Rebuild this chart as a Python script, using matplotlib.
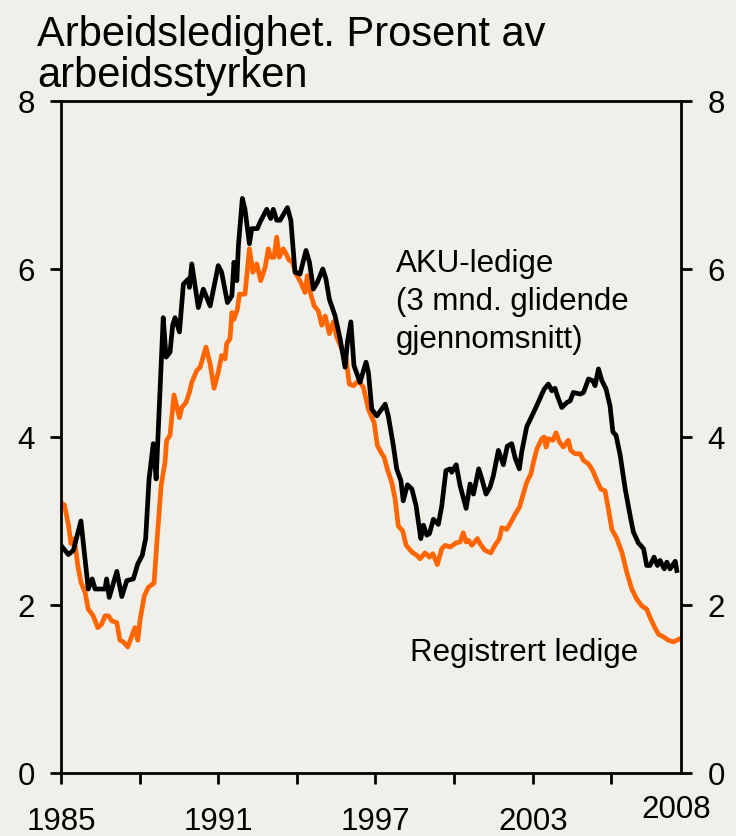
import matplotlib
matplotlib.use("Agg")
import matplotlib.pyplot as plt
import matplotlib.transforms as mtransforms

plt.rcParams['font.family'] = ['Liberation Sans', 'DejaVu Sans']

# AKU-ledige (3 mnd. glidende gjennomsnitt), prosent
aku_year = [1985.05, 1985.28, 1985.47, 1985.76, 1986.04, 1986.19, 1986.30, 1986.68, 1986.74, 1986.84,
            1987.13, 1987.32, 1987.51, 1987.76, 1987.93, 1988.10, 1988.23, 1988.36, 1988.52, 1988.63,
            1988.90, 1989.01, 1989.16, 1989.26, 1989.35, 1989.52, 1989.67, 1989.86, 1989.90, 1989.99,
            1990.24, 1990.43, 1990.69, 1991.00, 1991.13, 1991.35, 1991.52, 1991.60, 1991.71, 1991.77,
            1991.92, 1992.02, 1992.19, 1992.28, 1992.49, 1992.60, 1992.85, 1993.00, 1993.10, 1993.23,
            1993.36, 1993.64, 1993.77, 1993.93, 1994.12, 1994.35, 1994.48, 1994.63, 1994.78, 1994.99,
            1995.11, 1995.24, 1995.46, 1995.65, 1995.84, 1995.93, 1996.06, 1996.18, 1996.41, 1996.64,
            1996.73, 1996.86, 1997.05, 1997.37, 1997.49, 1997.68, 1997.81, 1997.97, 1998.06, 1998.22,
            1998.39, 1998.55, 1998.73, 1998.83, 1998.96, 1999.06, 1999.21, 1999.40, 1999.53, 1999.69,
            1999.85, 1999.91, 2000.08, 2000.23, 2000.46, 2000.61, 2000.74, 2000.94, 2001.06, 2001.22,
            2001.37, 2001.50, 2001.69, 2001.88, 2002.03, 2002.20, 2002.33, 2002.49, 2002.58, 2002.77,
            2002.97, 2003.18, 2003.35, 2003.44, 2003.60, 2003.73, 2003.85, 2003.94, 2004.11, 2004.30,
            2004.43, 2004.55, 2004.81, 2004.94, 2005.13, 2005.29, 2005.38, 2005.51, 2005.64, 2005.80,
            2005.95, 2006.06, 2006.18, 2006.34, 2006.53, 2006.72, 2006.84, 2007.03, 2007.23, 2007.35,
            2007.48, 2007.63, 2007.76, 2007.86, 2008.02, 2008.12, 2008.24, 2008.44, 2008.50]
aku = [2.69, 2.60, 2.65, 3.00, 2.19, 2.31, 2.19, 2.19, 2.31, 2.09,
       2.40, 2.10, 2.29, 2.31, 2.49, 2.59, 2.79, 3.50, 3.92, 3.50,
       5.42, 4.95, 5.01, 5.33, 5.42, 5.25, 5.82, 5.88, 5.78, 6.06,
       5.54, 5.76, 5.56, 6.04, 5.96, 5.60, 5.68, 6.08, 5.86, 6.28,
       6.84, 6.71, 6.30, 6.48, 6.48, 6.56, 6.71, 6.60, 6.71, 6.58,
       6.58, 6.73, 6.58, 5.96, 5.94, 6.22, 6.08, 5.76, 5.84, 6.00,
       5.88, 5.64, 5.44, 5.17, 4.83, 5.13, 5.37, 4.85, 4.65, 4.89,
       4.77, 4.33, 4.25, 4.39, 4.25, 3.90, 3.62, 3.48, 3.24, 3.43,
       3.38, 3.18, 2.79, 2.95, 2.83, 2.85, 3.02, 2.96, 3.18, 3.60,
       3.62, 3.58, 3.67, 3.42, 3.15, 3.44, 3.32, 3.62, 3.50, 3.32,
       3.40, 3.54, 3.84, 3.67, 3.89, 3.92, 3.75, 3.62, 3.82, 4.12,
       4.25, 4.39, 4.51, 4.57, 4.63, 4.55, 4.58, 4.49, 4.35, 4.41,
       4.43, 4.53, 4.51, 4.53, 4.69, 4.67, 4.61, 4.81, 4.67, 4.57,
       4.37, 4.06, 4.02, 3.78, 3.38, 3.06, 2.87, 2.74, 2.67, 2.47,
       2.47, 2.57, 2.47, 2.53, 2.43, 2.51, 2.43, 2.52, 2.41]

# Registrert ledige, prosent
reg_year = [1985.00, 1985.13, 1985.28, 1985.38, 1985.51, 1985.64, 1985.76, 1985.92, 1986.04, 1986.23,
            1986.40, 1986.55, 1986.68, 1986.81, 1986.94, 1987.13, 1987.25, 1987.38, 1987.55, 1987.70,
            1987.82, 1987.93, 1988.02, 1988.18, 1988.33, 1988.55, 1988.65, 1988.82, 1988.97, 1989.03,
            1989.16, 1989.31, 1989.52, 1989.61, 1989.77, 1989.90, 1989.99, 1990.18, 1990.31, 1990.53,
            1990.69, 1990.84, 1991.00, 1991.13, 1991.26, 1991.32, 1991.45, 1991.52, 1991.60, 1991.73,
            1991.81, 1992.02, 1992.19, 1992.32, 1992.47, 1992.62, 1992.79, 1992.91, 1993.00, 1993.13,
            1993.23, 1993.33, 1993.48, 1993.59, 1993.71, 1993.81, 1993.97, 1994.15, 1994.31, 1994.40,
            1994.53, 1994.66, 1994.82, 1994.95, 1995.08, 1995.24, 1995.39, 1995.52, 1995.71, 1995.88,
            1996.00, 1996.16, 1996.35, 1996.54, 1996.73, 1996.95, 1997.07, 1997.24, 1997.33, 1997.45,
            1997.62, 1997.75, 1997.87, 1998.04, 1998.17, 1998.39, 1998.58, 1998.70, 1998.89, 1999.06,
            1999.19, 1999.36, 1999.53, 1999.66, 1999.85, 2000.08, 2000.23, 2000.35, 2000.46, 2000.55,
            2000.68, 2000.89, 2000.99, 2001.18, 2001.40, 2001.56, 2001.73, 2001.82, 2002.01, 2002.16,
            2002.33, 2002.49, 2002.62, 2002.77, 2002.93, 2003.03, 2003.16, 2003.35, 2003.44, 2003.51,
            2003.60, 2003.77, 2003.89, 2004.02, 2004.17, 2004.36, 2004.45, 2004.62, 2004.81, 2004.94,
            2005.13, 2005.29, 2005.45, 2005.60, 2005.76, 2005.89, 2006.02, 2006.21, 2006.40, 2006.59,
            2006.78, 2006.97, 2007.16, 2007.35, 2007.48, 2007.63, 2007.80, 2007.99, 2008.18, 2008.37,
            2008.50, 2008.63]
reg = [3.22, 3.19, 2.96, 2.73, 2.79, 2.47, 2.27, 2.15, 1.95, 1.87,
       1.73, 1.77, 1.87, 1.87, 1.81, 1.79, 1.58, 1.56, 1.50, 1.63,
       1.73, 1.58, 1.83, 2.11, 2.21, 2.26, 2.71, 3.42, 3.70, 3.96,
       4.02, 4.50, 4.23, 4.35, 4.41, 4.53, 4.65, 4.79, 4.83, 5.07,
       4.87, 4.58, 4.77, 4.97, 4.93, 5.11, 5.17, 5.48, 5.40, 5.52,
       5.70, 5.70, 6.24, 5.96, 6.06, 5.86, 6.02, 6.24, 6.14, 6.14,
       6.38, 6.14, 6.24, 6.18, 6.10, 6.10, 5.94, 5.84, 5.72, 5.92,
       5.70, 5.56, 5.50, 5.33, 5.44, 5.23, 5.37, 5.19, 5.05, 4.93,
       4.63, 4.61, 4.67, 4.59, 4.33, 4.17, 3.90, 3.80, 3.76, 3.62,
       3.46, 3.26, 2.94, 2.88, 2.71, 2.63, 2.59, 2.55, 2.62, 2.57,
       2.61, 2.48, 2.67, 2.71, 2.69, 2.74, 2.75, 2.86, 2.75, 2.77,
       2.71, 2.79, 2.73, 2.65, 2.62, 2.71, 2.79, 2.92, 2.90, 2.98,
       3.08, 3.16, 3.30, 3.46, 3.56, 3.70, 3.86, 3.98, 4.00, 3.88,
       3.98, 3.96, 4.05, 3.94, 3.88, 3.96, 3.84, 3.80, 3.80, 3.72,
       3.68, 3.60, 3.48, 3.38, 3.36, 3.14, 2.90, 2.79, 2.63, 2.39,
       2.19, 2.07, 1.99, 1.95, 1.85, 1.75, 1.65, 1.62, 1.58, 1.56,
       1.58, 1.60]

x_ticks = [1985, 1988, 1991, 1994, 1997, 2000, 2003, 2006]
x_labels = ['1985', '', '1991', '', '1997', '', '2003', '']
y_ticks = [0, 2, 4, 6, 8]

bg = '#f0efe9'
fig = plt.figure(figsize=(7.36, 8.37), dpi=100, facecolor=bg)
ax = fig.add_axes([0.0829, 0.0753, 0.8424, 0.8029], facecolor=bg)

ax.plot(reg_year, reg, color='#ff6600', lw=3.4, solid_joinstyle='round')
ax.plot(aku_year, aku, color='black', lw=3.4, solid_joinstyle='round')

ax.set_xlim(1985, 2008.66)
ax.set_ylim(0, 8)
ax.set_xticks(x_ticks)
ax.set_xticklabels(x_labels)
ax.set_yticks(y_ticks)

for s in ax.spines.values():
    s.set_linewidth(2)
ax.tick_params(axis='x', direction='out', length=8, width=2, pad=16, labelsize=22.5)
ax.tick_params(axis='y', direction='out', length=8, width=2, pad=11, labelsize=22.5,
               left=True, right=True, labelleft=True, labelright=True)

trans = mtransforms.blended_transform_factory(ax.transData, ax.transAxes)
ax.text(2008.47, -0.032, '2008', transform=trans, ha='center', va='top', fontsize=22.5)

ax.text(1997.79, 5.98, 'AKU-ledige', fontsize=22.5, va='baseline')
ax.text(1997.79, 5.52, '(3 mnd. glidende', fontsize=22.5, va='baseline')
ax.text(1997.79, 5.07, 'gjennomsnitt)', fontsize=22.5, va='baseline')
ax.text(1998.32, 1.35, 'Registrert ledige', fontsize=22.5, va='baseline')

fig.text(0.050, 1 - 46 / 837, 'Arbeidsledighet. Prosent av', fontsize=30, va='baseline')
fig.text(0.050, 1 - 87 / 837, 'arbeidsstyrken', fontsize=30, va='baseline')

fig.savefig('out.png', dpi=100, facecolor=bg)
